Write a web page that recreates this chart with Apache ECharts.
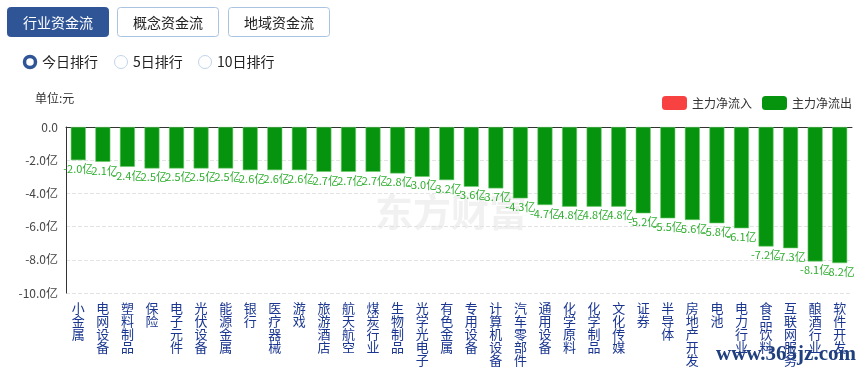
<!DOCTYPE html>
<html><head><meta charset="utf-8">
<script src="https://cdn.jsdelivr.net/npm/echarts@6/dist/echarts.min.js"></script>
<style>html,body{margin:0;padding:0;background:#fff}#c{width:857px;height:367px}</style>
</head><body><div id="c"></div>
<script>
const categories = ['小金属','电网设备','塑料制品','保险','电子元件','光伏设备','能源金属','银行','医疗器械','游戏','旅游酒店','航天航空','煤炭行业','生物制品','光学光电子','有色金属','专用设备','计算机设备','汽车零部件','通用设备','化学原料','化学制品','文化传媒','证券','半导体','房地产开发','电池','电力行业','食品饮料','互联网服务','酿酒行业','软件开发'];
const outflow = [-2.0,-2.1,-2.4,-2.5,-2.5,-2.5,-2.5,-2.6,-2.6,-2.6,-2.7,-2.7,-2.7,-2.8,-3.0,-3.2,-3.6,-3.7,-4.3,-4.7,-4.8,-4.8,-4.8,-5.2,-5.5,-5.6,-5.8,-6.1,-7.2,-7.3,-8.1,-8.2];
const inflow = categories.map(() => null);
const yTicks = [0,-2,-4,-6,-8,-10];
const tabs = ['行业资金流','概念资金流','地域资金流'];
const radios = ['今日排行','5日排行','10日排行'];

const FONT = '"Noto Sans CJK SC", "Noto Sans", sans-serif';
const chart = echarts.init(document.getElementById('c'), null, {renderer:'canvas'});

const tabX = [7,117,228];
const graphics = [];
tabs.forEach((t,i)=>{
  const sel = i===0;
  graphics.push({type:'group', left: tabX[i], top: 7, children:[
    {type:'rect', shape:{x:0,y:0,width:101,height:29,r:3}, style:{fill: sel?'#2f5596':'#fff', stroke: sel?'#2f5596':'#a9c4e0', lineWidth:1}},
    {type:'text', style:{x:50.5,y:15,text:t,fill: sel?'#fff':'#222',font:'14px '+FONT,align:'center',verticalAlign:'middle'}}
  ]});
});
const radioX = [30,121,205];
radios.forEach((t,i)=>{
  const sel = i===0;
  graphics.push({type:'circle', shape:{cx:radioX[i],cy:62,r: sel?5.5:6.5}, style:{fill:'#fff', stroke: sel?'#2f5596':'#c0d4ea', lineWidth: sel?3.5:1}});
  graphics.push({type:'text', style:{x:radioX[i]+12,y:62,text:t,fill:'#222',font:'14px '+FONT,verticalAlign:'middle'}});
});
graphics.push({type:'text', style:{x:35,y:98,text:'单位:元',fill:'#333',font:'12px '+FONT,verticalAlign:'middle'}});
graphics.push({type:'text', z:-1, style:{x:375,y:212,text:'东方财富',fill:'#f1f1f1',font:'bold 38px '+FONT,verticalAlign:'middle'}});
graphics.push({type:'text', z:100, style:{x:856,y:355,text:'www.365jz.com',fill:'#1f3f7f',font:'bold 21px "Liberation Serif", serif',align:'right',verticalAlign:'middle'}});

chart.setOption({
  animation:false,
  textStyle:{fontFamily:FONT},
  graphic: graphics,
  legend:{
    right:0, top:91, itemWidth:25, itemHeight:14, itemGap:10, icon:'roundRect',
    itemStyle:{borderWidth:0},
    textStyle:{fontSize:12,color:'#333',fontFamily:FONT},
    data:['主力净流入','主力净流出']
  },
  grid:{left:66,right:5,top:127,bottom:74},
  xAxis:[{
    type:'category', data:categories, position:'bottom',
    axisLine:{show:false,onZero:false}, axisTick:{show:false},
    axisLabel:{interval:0,margin:9,color:'#1a3690',fontSize:13,lineHeight:13,fontFamily:FONT,
      formatter:v=>v.split('').join('\n'), verticalAlign:'top'}
  },{
    type:'category', data:categories, position:'top',
    axisLine:{show:true,onZero:false,lineStyle:{color:'#333',width:1}}, axisTick:{show:false}, axisLabel:{show:false}
  }],
  yAxis:{
    type:'value', min:-10, max:0, interval:2,
    axisLine:{show:true,lineStyle:{color:'#333'}}, axisTick:{show:false},
    axisLabel:{color:'#444',fontSize:12,margin:8,fontFamily:FONT,
      formatter:v=> v===0 ? '0.0' : v.toFixed(1)+'亿'},
    splitLine:{show:true,lineStyle:{color:'#e3e3e3',type:'dashed'}}
  },
  series:[
    {name:'主力净流入', type:'bar', stack:'t', data:inflow, itemStyle:{color:'#f84242'}, barWidth:15},
    {name:'主力净流出', type:'bar', stack:'t', data:outflow, barWidth:15,
      itemStyle:{color:'#06930e', borderColor:'#6ccb6c', borderWidth:0.6},
      label:{show:true, position:'bottom', distance:3, color:'#2fae2f', fontSize:11, fontFamily:FONT,
        formatter:p=>p.value.toFixed(1)+'亿'}}
  ]
});
</script></body></html>
